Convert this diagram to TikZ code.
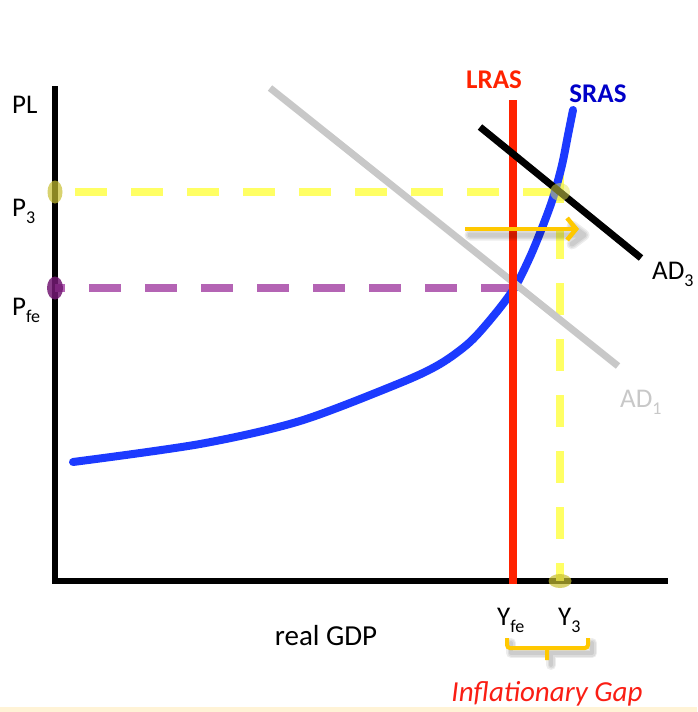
\documentclass[tikz,border=0pt]{standalone}
\usepackage{fontspec}
\setmainfont{Carlito}
\usepackage{tikz}
\usetikzlibrary{arrows.meta}
\definecolor{lrasred}{RGB}{255,34,0}
\definecolor{srasblue}{RGB}{28,58,255}
\definecolor{srasdark}{RGB}{0,0,200}
\definecolor{adgray}{RGB}{200,200,200}
\definecolor{gapyellow}{RGB}{255,255,100}
\definecolor{fepurple}{RGB}{180,100,180}
\definecolor{feplum}{RGB}{115,25,115}
\definecolor{shiftgold}{RGB}{255,200,0}
\definecolor{gapred}{RGB}{250,30,20}
\definecolor{cream}{RGB}{255,243,214}
\newcommand{\lo}[1]{\raisebox{-7pt}{\fontsize{18}{18}\selectfont #1}}
\tikzset{
  axis/.style={line width=6pt, black},
  guide/.style={line width=8pt, dash pattern=on 32pt off 24pt},
  curve/.style={line width=8pt},
  adline/.style={line width=7pt},
  lbl/.style={font=\fontsize{27}{30}\selectfont, inner sep=0pt},
  blbl/.style={lbl, font=\fontsize{27}{30}\selectfont\bfseries},
  mark3/.style={fill=yellow!75!black, opacity=0.7},
  shade/.style={black, opacity=0.07},
}

\begin{document}
\begin{tikzpicture}[x=1pt, y=-1pt]
  \useasboundingbox (0,0) rectangle (697,712);
  \fill[cream] (0,707) rectangle (697,712);
  % points of the graph
  \coordinate (top) at (55,86);
  \coordinate (o) at (55,581);
  \coordinate (right) at (668,581);
  \coordinate (p3) at (55,192);
  \coordinate (pfe) at (55,288);
  \coordinate (e3) at (560,192);
  \coordinate (efe) at (513,288);
  \coordinate (y3) at (560,581);
  \draw[axis] (top) -- (o) -- (right);
  \draw[guide, gapyellow] ([xshift=20pt]p3) -- (e3);
  \draw[guide, gapyellow] ([yshift=21pt]y3 |- e3) -- (y3);
  \draw[guide, fepurple, dash phase=22pt] (pfe) -- (efe);
  \draw[curve, srasblue, line cap=round] plot[smooth, tension=0.5] coordinates {
    (73,462) (200,444) (300,421) (400,383) (440,364) (470,342) (495,314)
    (515,287) (530,257) (542,228) (553,198) (562,165) (568,135) (573,110)};
  \draw[adline, adgray] (270,88) -- (618,366);
  \draw[line width=8pt, lrasred] (513,100) -- (513,584);
  \draw[adline, black] (480,127) -- (641,258);
  % shift of AD
  \foreach \w in {11,8,5}
    \draw[shade, line width=\w pt, line cap=round, line join=round]
      (470,235) -- (584,235) (572,226) -- (584,235) -- (572,244);
  \draw[line width=4.5pt, shiftgold, -{Straight Barb[length=9pt, width=22pt]}] (465,229) -- (579,229);
  \fill[mark3] (p3) ellipse (7.5pt and 11.5pt);
  \fill[feplum, opacity=0.85] (pfe) ellipse (8pt and 11.5pt);
  \fill[mark3] (y3) ellipse (11.5pt and 7pt);
  \fill[gapyellow!80!olive, opacity=0.5] (e3) ellipse (10pt and 9pt);
  % labels
  \node[lbl, anchor=base west] (pl) at (12,113) {PL};
  \node[lbl, anchor=base west] (lp3) at (12,216) {P\lo{3}};
  \node[lbl, anchor=base west] (lpfe) at (12,315) {P\lo{fe}};
  \node[blbl, lrasred, anchor=base] (lras) at (494,88) {LRAS};
  \node[blbl, srasdark, anchor=base] (sras) at (598,102) {SRAS};
  \node[lbl, anchor=base west] (ad3) at (652,279) {AD\lo{3}};
  \node[lbl, adgray, anchor=base west] (ad1) at (620,407) {AD\lo{1}};
  \node[lbl, font=\fontsize{29}{30}\selectfont, anchor=base] (gdp) at (326,645) {real GDP};
  \node[lbl, anchor=base west] (yfe) at (497,625) {Y\lo{fe}};
  \node[lbl, anchor=base west] (ly3) at (558,625) {Y\lo{3}};
  % gap brace
  \foreach \w in {10,7,4}
    \draw[shade, line width=\w pt, line cap=round, line join=round] (511,643) -- (511,653) -- (592,653) -- (592,643) (551,653) -- (551,665);
  \draw[shiftgold, line width=4pt, rounded corners=3pt] (507,638) -- (507,648) -- (588,648) -- (588,638) (547,648) -- (547,660);
  \node[lbl, gapred, font=\fontsize{29}{30}\selectfont\itshape, anchor=base] (gap) at (547,701) {Inflationary Gap};
\end{tikzpicture}
\end{document}
